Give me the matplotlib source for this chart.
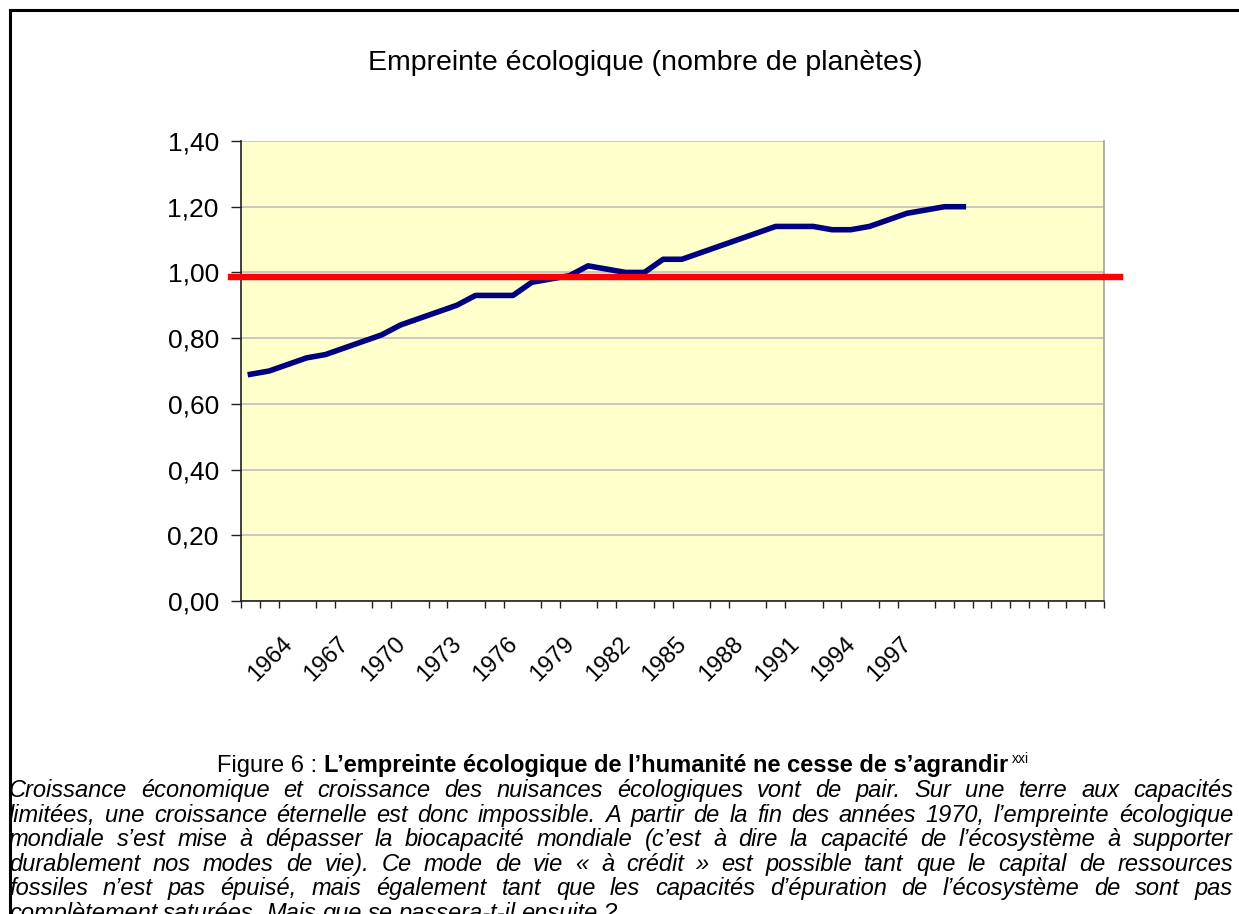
import matplotlib
matplotlib.use("Agg")
import matplotlib.pyplot as plt
import matplotlib.transforms as mtransforms
from matplotlib.lines import Line2D

# data
years = list(range(1961, 2007))          # category axis, 46 slots
footprint = [0.69, 0.70, 0.72, 0.74, 0.75, 0.77, 0.79, 0.81, 0.84, 0.86,
             0.88, 0.90, 0.93, 0.93, 0.93, 0.97, 0.98, 0.99, 1.02, 1.01,
             1.00, 1.00, 1.04, 1.04, 1.06, 1.08, 1.10, 1.12, 1.14, 1.14,
             1.14, 1.13, 1.13, 1.14, 1.16, 1.18, 1.19, 1.20, 1.20]
labelled_years = [1964, 1967, 1970, 1973, 1976, 1979, 1982, 1985,
                  1988, 1991, 1994, 1997]
biocapacity = 0.985
yticks = [0.0, 0.2, 0.4, 0.6, 0.8, 1.0, 1.2, 1.4]

title = "Empreinte écologique (nombre de planètes)"
caption_lines = [
    "Croissance économique et croissance des nuisances écologiques vont de pair. Sur une terre aux capacités",
    "limitées, une croissance éternelle est donc impossible. A partir de la fin des années 1970, l’empreinte écologique",
    "mondiale s’est mise à dépasser la biocapacité mondiale (c’est à dire la capacité de l’écosystème à supporter",
    "durablement nos modes de vie). Ce mode de vie « à crédit » est possible tant que le capital de ressources",
    "fossiles n’est pas épuisé, mais également tant que les capacités d’épuration de l’écosystème de sont pas",
    "complètement saturées. Mais que se passera-t-il ensuite ?",
]

W, H = 1239, 914
plt.rcParams['font.family'] = ['Liberation Sans', 'DejaVu Sans']

fig = plt.figure(figsize=(W / 100, H / 100), dpi=100)
fig.patch.set_facecolor('white')


def px(x, y):
    return x / W, 1 - y / H


# plot area
l, t = px(241, 141)
r, b = px(1104, 601)
ax = fig.add_axes([l, b, r - l, t - b])
ax.set_facecolor('#FFFFCC')

idx = list(range(len(footprint)))
ax.plot(idx, footprint, color='#000080', lw=4, solid_joinstyle='round',
        zorder=3)

# biocapacity line, drawn past the plot frame like in the original
trans = mtransforms.blended_transform_factory(ax.transAxes, ax.transData)
ax.plot([-0.012, 1.018], [biocapacity, biocapacity], color='#FF0000',
        lw=4.6, transform=trans, clip_on=False, zorder=4)

ax.set_ylim(0, 1.4)
ax.set_yticks(yticks)
ax.set_yticklabels([f"{v:.2f}".replace('.', ',') for v in yticks],
                   fontsize=19)
ax.yaxis.grid(True, color='#C0C0C0', lw=1.2)
ax.set_axisbelow(True)

ax.set_xlim(-0.5, len(years) - 0.5)
ax.set_xticks([i - 0.5 for i in range(len(years) + 1)], minor=True)
# labels sit on the left boundary of their category, as in the original
ax.set_xticks([years.index(y) - 0.5 for y in labelled_years])
ax.set_xticklabels([str(y) for y in labelled_years], rotation=45,
                   ha='right', va='bottom', rotation_mode='anchor',
                   fontsize=17)

ax.tick_params(axis='x', which='major', length=0, pad=34)
ax.tick_params(axis='x', which='minor', length=5, width=1, color='#202020')
ax.tick_params(axis='y', length=7, width=1, color='#202020', pad=9)

for side in ('left', 'bottom'):
    ax.spines[side].set_color('#202020')
    ax.spines[side].set_linewidth(1.2)
ax.spines['right'].set_color('#A0A0A0')
ax.spines['right'].set_linewidth(1.2)
ax.spines['top'].set_visible(False)

fig.text(*px(645, 63), title, ha='center', va='center', fontsize=20.5)

# frame of the chart object (only left and top edges are visible)
fig.add_artist(Line2D([10 / W, 10 / W], [0, 1 - 10 / H], color='black',
                      lw=2.2, transform=fig.transFigure))
fig.add_artist(Line2D([10 / W, 1], [1 - 10 / H, 1 - 10 / H], color='black',
                      lw=2.2, transform=fig.transFigure))

renderer = fig.canvas.get_renderer()

# "Figure 6 : ..." line
cap_fs = 17
parts = [("Figure 6 : ", 'normal'),
         ("L’empreinte écologique de l’humanité ne cesse de s’agrandir",
          'bold')]
objs = [fig.text(0, 0, s, fontsize=cap_fs, fontweight=wt, va='baseline')
        for s, wt in parts]
sup = fig.text(0, 0, "xxi", fontsize=10, va='baseline')
widths = [o.get_window_extent(renderer).width for o in objs]
sup_w = sup.get_window_extent(renderer).width
total = sum(widths) + 4 + sup_w
x = 623 - total / 2
base = 772
for o, w in zip(objs, widths):
    o.set_position(px(x, base))
    x += w
sup.set_position(px(x + 4, base - 9))

# justified italic paragraph
x0, x1 = 9, 1233
y0, dy = 797, 24.6
for i, line in enumerate(caption_lines):
    words = line.split(' ')
    ts = [fig.text(0, 0, w, fontsize=cap_fs, style='italic', va='baseline')
          for w in words]
    ws = [tt.get_window_extent(renderer).width for tt in ts]
    if i == len(caption_lines) - 1:
        gap_w = 0.25 * cap_fs * 100 / 72
    else:
        gap_w = (x1 - x0 - sum(ws)) / (len(words) - 1)
    x = x0
    for tt, w in zip(ts, ws):
        tt.set_position(px(x, y0 + i * dy))
        x += w + gap_w

fig.savefig('out.png', dpi=100)
